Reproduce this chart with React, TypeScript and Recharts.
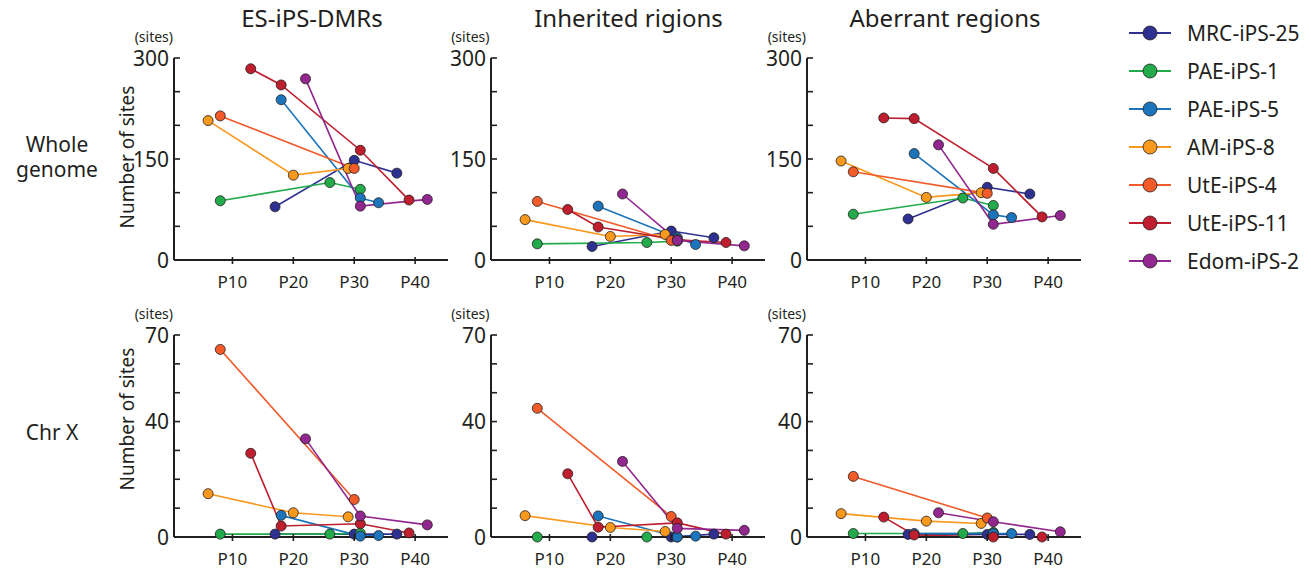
import { LineChart, Line, XAxis, YAxis } from 'recharts'

const SERIES = ['MRC-iPS-25', 'PAE-iPS-1', 'PAE-iPS-5', 'AM-iPS-8', 'UtE-iPS-4', 'UtE-iPS-11', 'Edom-iPS-2']
const COLORS = ['#2E3192', '#22AA4B', '#1C75BC', '#F8981D', '#F15A29', '#BE1E2D', '#92278F']

// passage numbers sampled for each line
const PASSAGES = [
  [17, 30, 37],
  [8, 26, 31],
  [18, 31, 34],
  [6, 20, 29],
  [8, 30],
  [13, 18, 31, 39],
  [22, 31, 42],
]

const WHOLE_DMR = [[79, 148, 129], [88, 115, 105], [238, 92, 85], [207, 126, 136], [214, 136], [284, 260, 163, 89], [269, 80, 90]]
const WHOLE_INHERITED = [[20, 43, 33], [24, 26, 28], [80, 33, 23], [60, 35, 38], [87, 29], [75, 49, 30, 26], [98, 29, 21]]
const WHOLE_ABERRANT = [[61, 108, 98], [68, 92, 81], [158, 67, 63], [147, 93, 100], [131, 99], [211, 210, 136, 64], [171, 53, 66]]
const CHRX_DMR = [[1, 1, 1], [1, 1, 1.3], [7.5, 0.3, 0.5], [15, 8.4, 7], [65, 13], [29, 3.8, 4.6, 1.4], [34, 7.3, 4.2]]
const CHRX_INHERITED = [[0, 0, 1], [0, 0, 0], [7.3, 0, 0.3], [7.4, 3.3, 1.9], [44.6, 7.1], [21.9, 3.4, 4.9, 1], [26.2, 3, 2.3]]
const CHRX_ABERRANT = [[0.9, 0.9, 0.9], [1.2, 1.2, 1.6], [1.2, 1.2, 1.2], [8.1, 5.5, 4.7], [21, 6.6], [6.9, 0.7, 0, 0], [8.4, 5.3, 1.8]]

const X_TICKS = [10, 20, 30, 40]
const WHOLE_TICKS = [0, 50, 100, 150, 200, 250, 300]
const WHOLE_LABELS = [0, 150, 300]
const CHRX_TICKS = [0, 10, 20, 30, 40, 50, 60, 70]
const CHRX_LABELS = [0, 40, 70]

const TITLES = ['ES-iPS-DMRs', 'Inherited rigions', 'Aberrant regions']

const INK = '#231F20'
const FONT = '"Noto Sans", "Open Sans", sans-serif'
const PW = 274
const PH = 202
const YW = 50
const MT = 16
const XH = 40
const COL_LEFT = [174, 490.5, 807]
const ROW_TOP = [57.5, 334.5]

function Panel({ left, top, values, yMax, ticks, labels }: {
  left: number; top: number; values: number[][]; yMax: number; ticks: number[]; labels: number[]
}) {
  const yTick = (p: any) => {
    const { x, y, payload } = p
    return (
      <g>
        <line x1={x} x2={x + 6} y1={y} y2={y} stroke={INK} strokeWidth={1.6} />
        {labels.includes(payload.value) && (
          <text x={x - 5} y={y} dy="0.36em" textAnchor="end" fontSize={21} fill={INK} fontFamily={FONT}>
            {payload.value}
          </text>
        )}
      </g>
    )
  }
  const xTick = (p: any) => {
    const { x, y, payload } = p
    return (
      <g>
        <line x1={x} x2={x} y1={y - 3} y2={y + 4} stroke={INK} strokeWidth={1.6} />
        <text x={x} y={y + 28} textAnchor="middle" fontSize={17} fill={INK} fontFamily={FONT}>
          {`P${payload.value}`}
        </text>
      </g>
    )
  }
  return (
    <div style={{ position: 'absolute', left: left - YW, top: top - MT }}>
      <LineChart width={PW + YW + 6} height={PH + MT + XH} margin={{ top: MT, right: 6, left: 0, bottom: 0 }}>
        <XAxis
          type="number"
          dataKey="p"
          domain={[0.4, 45.4]}
          ticks={X_TICKS}
          allowDataOverflow
          height={XH}
          axisLine={{ stroke: INK, strokeWidth: 2 }}
          tickLine={false}
          tickSize={0}
          tickMargin={0}
          tick={xTick}
        />
        <YAxis
          type="number"
          domain={[0, yMax]}
          ticks={ticks}
          width={YW}
          axisLine={{ stroke: INK, strokeWidth: 2 }}
          tickLine={false}
          tickSize={0}
          tickMargin={0}
          tick={yTick}
          interval={0}
        />
        {SERIES.map((name, i) => (
          <Line
            key={name}
            data={PASSAGES[i].map((p, j) => ({ p, v: values[i][j] }))}
            dataKey="v"
            name={name}
            stroke={COLORS[i]}
            strokeWidth={1.6}
            dot={{ r: 5, fill: COLORS[i], stroke: INK, strokeWidth: 0.8 }}
            isAnimationActive={false}
          />
        ))}
      </LineChart>
    </div>
  )
}

export default function App() {
  const rows = [
    { values: [WHOLE_DMR, WHOLE_INHERITED, WHOLE_ABERRANT], yMax: 300, ticks: WHOLE_TICKS, labels: WHOLE_LABELS },
    { values: [CHRX_DMR, CHRX_INHERITED, CHRX_ABERRANT], yMax: 70, ticks: CHRX_TICKS, labels: CHRX_LABELS },
  ]
  return (
    <div style={{ position: 'relative', width: 1311, height: 569, background: '#fff', fontFamily: FONT }}>
      <style>{'body{margin:0}'}</style>
      {rows.map((r, ri) =>
        COL_LEFT.map((l, ci) => (
          <Panel key={`${ri}-${ci}`} left={l} top={ROW_TOP[ri]} values={r.values[ci]} yMax={r.yMax} ticks={r.ticks} labels={r.labels} />
        ))
      )}
      <svg width={1311} height={569} style={{ position: 'absolute', left: 0, top: 0, pointerEvents: 'none' }} fontFamily={FONT} fill={INK}>
        {TITLES.map((t, i) => (
          <text key={t} x={COL_LEFT[i] + 138} y={26.5} textAnchor="middle" fontSize={24}>{t}</text>
        ))}
        {ROW_TOP.map((t, ri) =>
          COL_LEFT.map((l, ci) => (
            <text key={`s${ri}${ci}`} x={l - 1} y={t - 16} textAnchor="end" fontSize={14}>(sites)</text>
          ))
        )}
        <text x={57} y={152} textAnchor="middle" fontSize={21}>Whole</text>
        <text x={57} y={177} textAnchor="middle" fontSize={21}>genome</text>
        <text x={52} y={440} textAnchor="middle" fontSize={21}>Chr X</text>
        <text transform="translate(127,157) rotate(-90)" textAnchor="middle" dominantBaseline="central" fontSize={19}>Number of sites</text>
        <text transform="translate(127,419) rotate(-90)" textAnchor="middle" dominantBaseline="central" fontSize={19}>Number of sites</text>
        {SERIES.map((name, i) => {
          const y = 33 + i * 38
          return (
            <g key={name}>
              <line x1={1129} x2={1171} y1={y} y2={y} stroke={COLORS[i]} strokeWidth={2} />
              <circle cx={1150} cy={y} r={7} fill={COLORS[i]} stroke={INK} strokeWidth={0.8} />
              <text x={1187} y={y} dy="0.36em" fontSize={21}>{name}</text>
            </g>
          )
        })}
      </svg>
    </div>
  )
}
